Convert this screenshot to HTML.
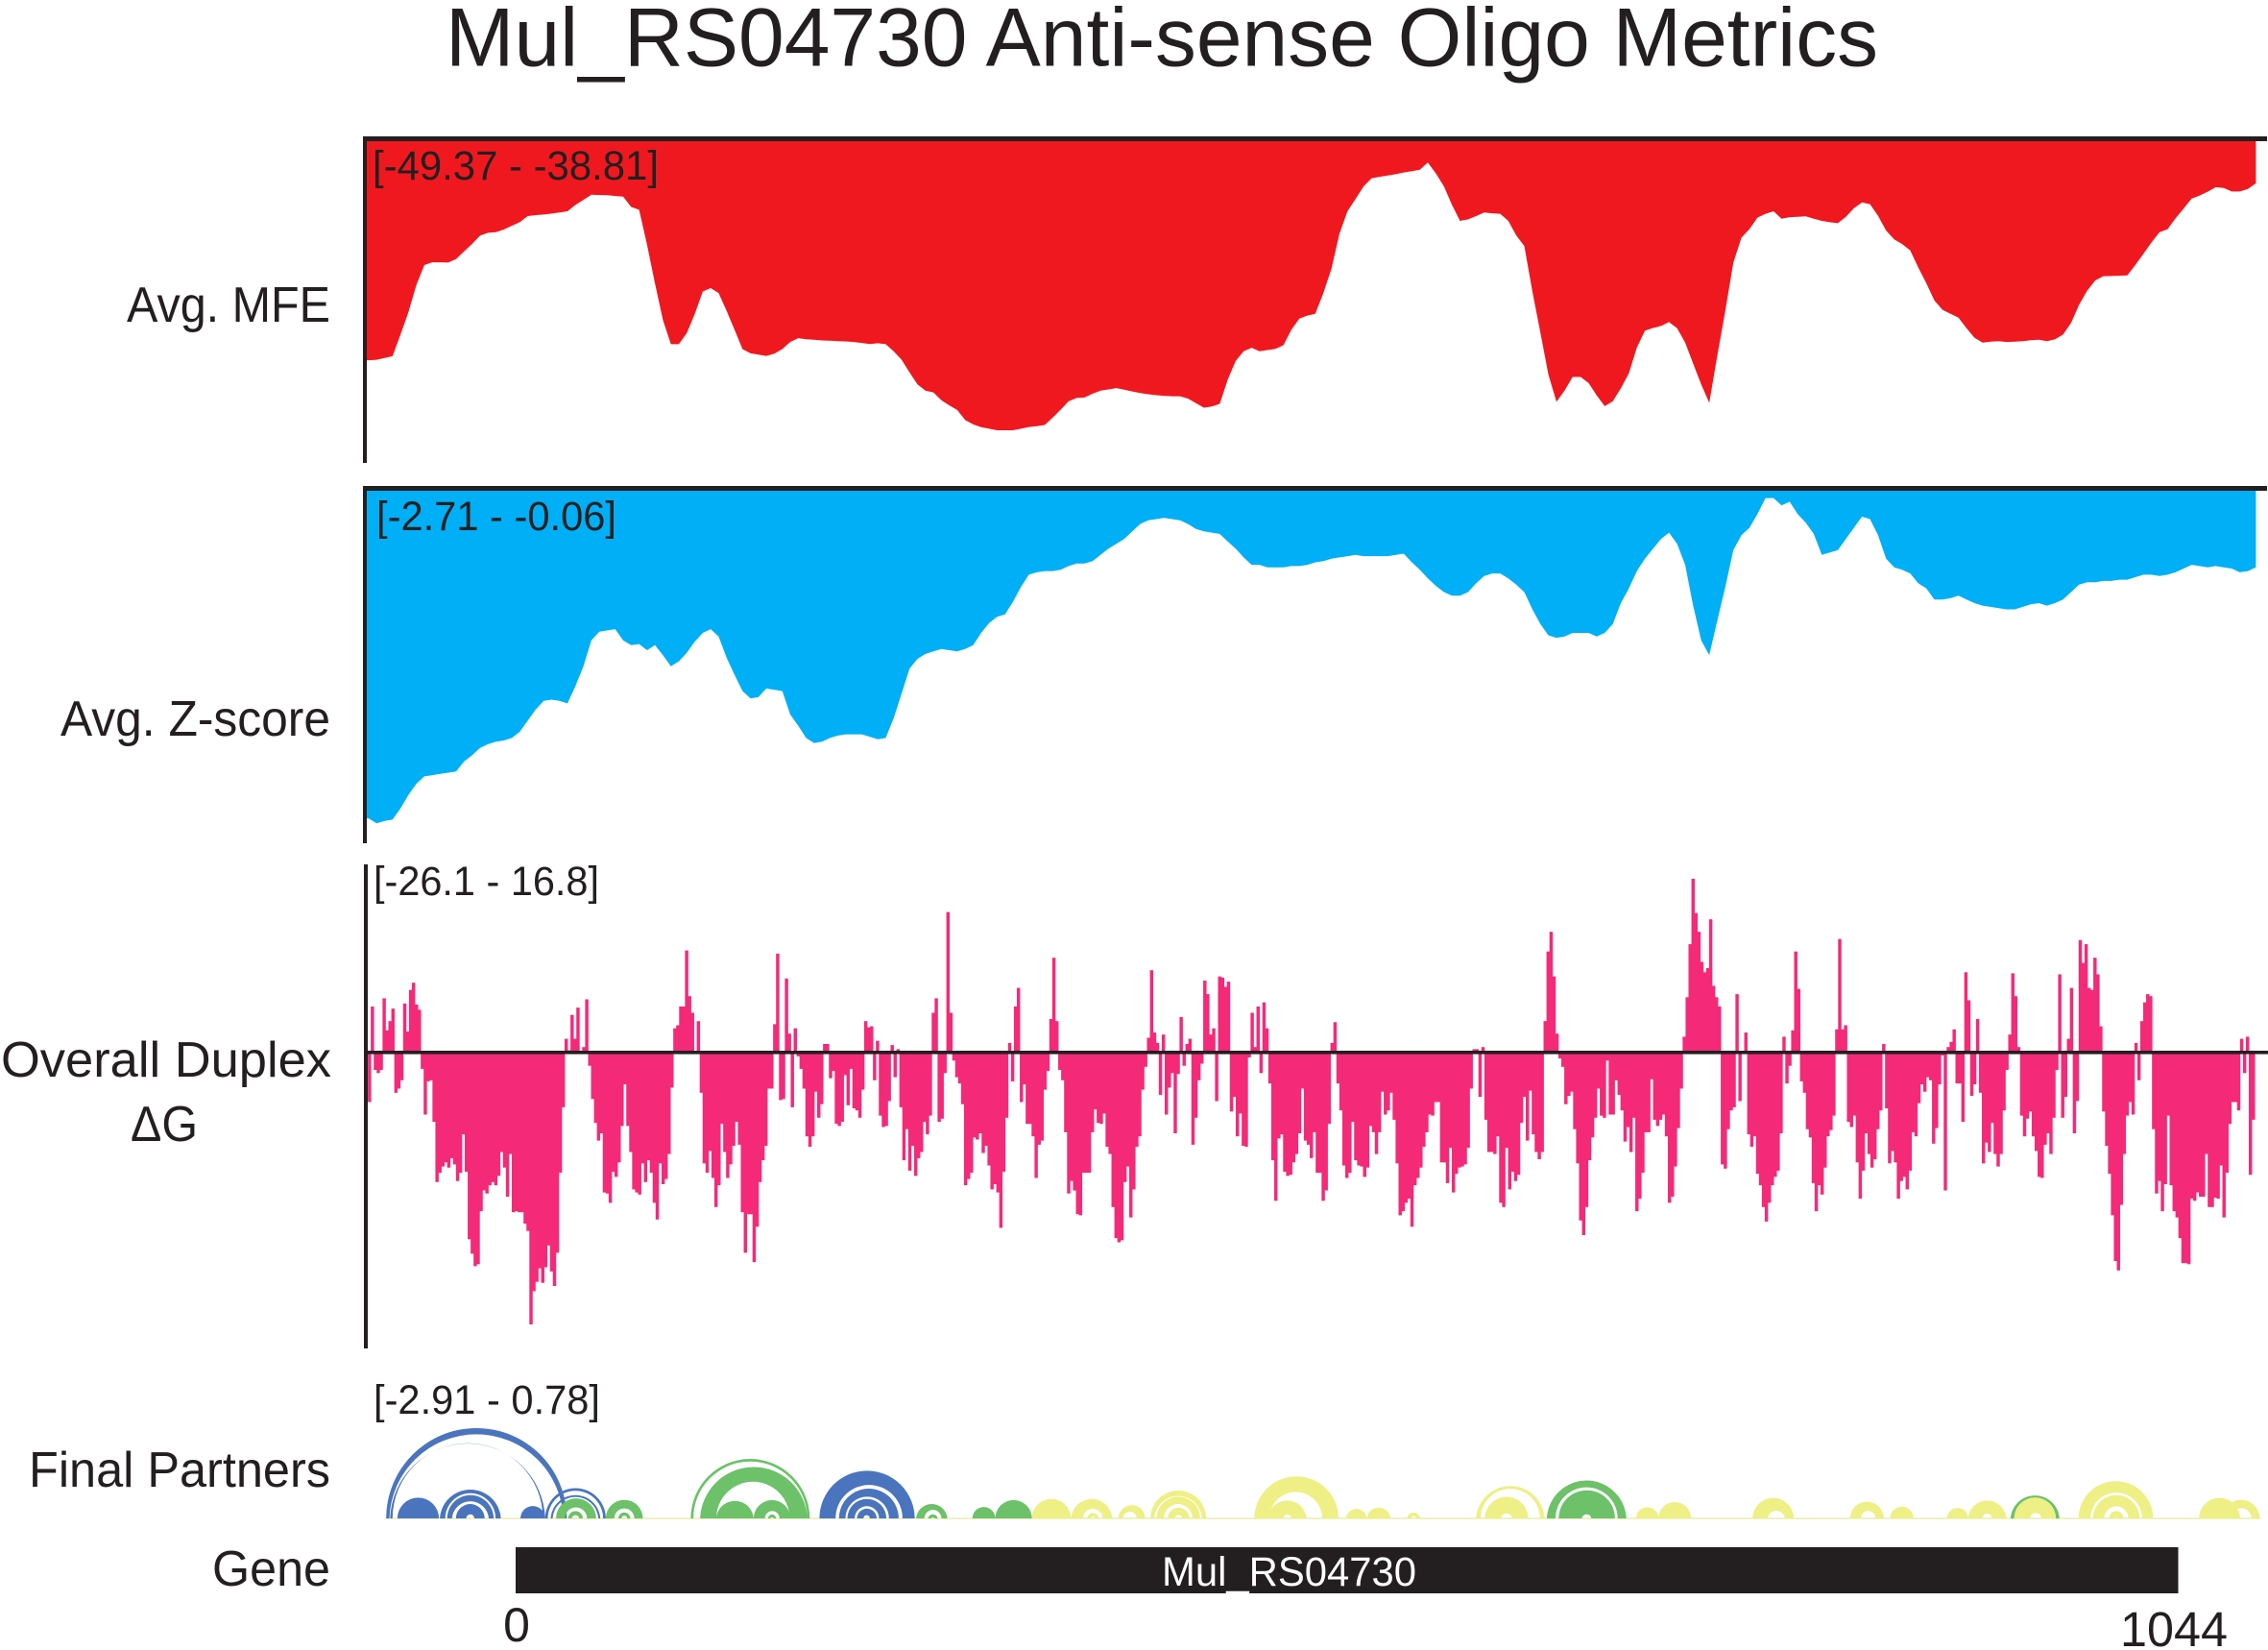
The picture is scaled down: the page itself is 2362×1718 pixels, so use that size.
<!DOCTYPE html>
<html lang="en">
<head>
<meta charset="utf-8">
<title>Mul_RS04730 Anti-sense Oligo Metrics</title>
<style>
html,body{margin:0;padding:0;background:#fff;}
svg{display:block;}
text{font-family:"Liberation Sans",sans-serif;fill:#231f20;}
</style>
</head>
<body>
<svg id="chart" xmlns="http://www.w3.org/2000/svg" width="2362" height="1718" viewBox="0 0 2362 1718">
  <rect x="0" y="0" width="2362" height="1718" fill="#fff"/>
  <text x="464" y="68.5" font-size="86" textLength="1492" lengthAdjust="spacingAndGlyphs">Mul_RS04730 Anti-sense Oligo Metrics</text>

  <g id="mfe-panel"></g>
  <g id="zscore-panel"></g>
  <g id="duplex-panel"></g>
  <g id="partners-panel"></g>

  <rect x="378" y="142" width="4" height="340" fill="#231f20"/>
  <rect x="378" y="142" width="1983" height="5" fill="#231f20"/>
  <rect x="378" y="506" width="4" height="372" fill="#231f20"/>
  <rect x="378" y="506" width="1983" height="5" fill="#231f20"/>
  <rect x="379" y="900" width="4" height="504" fill="#231f20"/>
  <rect x="383" y="1094" width="1979" height="3.6" fill="#231f20"/>

  <text x="132" y="335" font-size="52" textLength="212" lengthAdjust="spacingAndGlyphs">Avg. MFE</text>
  <text x="63" y="766" font-size="52" textLength="281" lengthAdjust="spacingAndGlyphs">Avg. Z-score</text>
  <text x="1" y="1121" font-size="52" textLength="344" lengthAdjust="spacingAndGlyphs">Overall Duplex</text>
  <text x="136" y="1188" font-size="52" textLength="70" lengthAdjust="spacingAndGlyphs">ΔG</text>
  <text x="30" y="1548" font-size="52" textLength="314" lengthAdjust="spacingAndGlyphs">Final Partners</text>
  <text x="221" y="1651" font-size="52" textLength="123" lengthAdjust="spacingAndGlyphs">Gene</text>

  <text x="388" y="187" font-size="43" textLength="298" lengthAdjust="spacingAndGlyphs">[-49.37 - -38.81]</text>
  <text x="392" y="552" font-size="43" textLength="250" lengthAdjust="spacingAndGlyphs">[-2.71 - -0.06]</text>
  <text x="389" y="932" font-size="43" textLength="235" lengthAdjust="spacingAndGlyphs">[-26.1 - 16.8]</text>
  <text x="389" y="1472" font-size="43" textLength="236" lengthAdjust="spacingAndGlyphs">[-2.91 - 0.78]</text>

  <rect x="537" y="1611" width="1731.5" height="48" fill="#231f20"/>
  <text x="1210" y="1651" font-size="43" textLength="265" lengthAdjust="spacingAndGlyphs" style="fill:#ffffff">Mul_RS04730</text>
  <text id="gene-start-tick" y="1709" font-size="50" text-anchor="middle"></text>
  <text id="gene-end-tick" y="1714" font-size="51" text-anchor="middle" textLength="112" lengthAdjust="spacingAndGlyphs"></text>
</svg>

<script>
const geneTicks = [0, 1044];

const areaSectionNt = [-92.3, 497.1, 1092.8];

const mfeRange = [-49.37, -38.81];
const mfeValuesLeft = [
-46.61,-46.59,-46.52,-46.45,-45.60,-44.72,-43.65,-42.86,-42.75,-42.75,-42.76,-42.62,-42.32,-42.03,-41.70,-41.59,-41.56,-41.46,-41.31,-41.17,
-40.93,-40.89,-40.87,-40.83,-40.79,-40.74,-40.49,-40.29,-40.09,-40.10,-40.11,-40.14,-40.16,-40.57,-40.68,-42.07,-43.58,-45.03,-45.98,-45.98,
-45.54,-44.78,-43.90,-43.77,-43.96,-44.66,-45.41,-46.17,-46.34,-46.39,-46.44,-46.35,-46.17,-45.89,-45.74,-45.78,-45.80,-45.83,-45.84,-45.86,
-45.87,-45.89,-45.93,-45.97,-45.94,-45.98,-46.26,-46.59,-47.09,-47.56,-47.81,-47.88,-48.19,-48.39,-48.57,-48.97,-49.14,-49.25,-49.31,-49.37,
-49.37,-49.37,-49.31,-49.24,-49.21,-49.16,-48.87,-48.56,-48.23,-48.10,-48.08,-47.93,-47.81,-47.76,-47.71,-47.77,-47.84,-47.90,-47.95,-47.99,
-48.01,-48.03,-48.03,-48.12,-48.30,-48.48,-48.43,-48.33,-47.37,-46.64,-46.26,-46.12,-46.26,-46.21,-46.16,-46.02,-45.41,-44.97
];
const mfeValuesRight = [
-44.85,-44.78,-43.96,-43.01,-41.63,-40.74,-40.26,-39.76,-39.44,-39.38,-39.33,-39.28,-39.21,-39.16,-39.10,-38.82,-39.25,-39.76,-40.49,-41.12,
-41.06,-40.93,-40.79,-40.82,-40.84,-41.12,-41.69,-42.11,-43.90,-45.54,-47.18,-48.25,-47.81,-47.27,-47.27,-47.51,-48.00,-48.42,-48.23,-47.72,
-47.12,-46.11,-45.45,-45.34,-45.26,-45.11,-45.35,-45.92,-46.74,-47.56,-48.29,-46.42,-44.66,-42.76,-41.78,-41.44,-40.99,-40.84,-40.74,-41.03,
-40.97,-40.96,-40.94,-41.03,-41.12,-41.17,-41.21,-40.96,-40.62,-40.39,-40.46,-40.92,-41.50,-41.85,-42.03,-42.28,-42.96,-43.58,-44.25,-44.62,
-44.78,-44.93,-45.35,-45.73,-45.92,-45.88,-45.86,-45.89,-45.88,-45.86,-45.82,-45.80,-45.86,-45.79,-45.60,-45.14,-44.43,-43.87,-43.47,-43.30,
-43.29,-43.28,-43.27,-42.86,-42.42,-41.97,-41.56,-41.45,-41.02,-40.64,-40.24,-40.12,-39.97,-39.79,-39.82,-39.96,-39.96,-39.86,-39.64
];

const zscoreRange = [-2.71, -0.06];
const zscoreValuesLeft = [
-2.67,-2.71,-2.69,-2.68,-2.59,-2.48,-2.39,-2.33,-2.32,-2.31,-2.30,-2.29,-2.21,-2.16,-2.10,-2.07,-2.05,-2.04,-2.02,-1.97,
-1.88,-1.79,-1.72,-1.71,-1.72,-1.74,-1.60,-1.44,-1.23,-1.16,-1.15,-1.14,-1.23,-1.27,-1.26,-1.31,-1.27,-1.35,-1.44,-1.40,
-1.33,-1.24,-1.17,-1.14,-1.20,-1.37,-1.51,-1.64,-1.70,-1.69,-1.62,-1.63,-1.64,-1.83,-1.92,-2.02,-2.06,-2.05,-2.02,-2.00,
-1.99,-1.99,-1.99,-2.01,-2.03,-2.02,-1.86,-1.66,-1.46,-1.38,-1.34,-1.32,-1.30,-1.31,-1.32,-1.30,-1.27,-1.17,-1.09,-1.04,
-1.02,-0.92,-0.80,-0.70,-0.68,-0.67,-0.67,-0.66,-0.63,-0.61,-0.61,-0.59,-0.54,-0.49,-0.45,-0.41,-0.35,-0.29,-0.26,-0.25,
-0.24,-0.25,-0.26,-0.29,-0.33,-0.35,-0.36,-0.37,-0.43,-0.49,-0.56,-0.62,-0.62,-0.64,-0.64,-0.64,-0.63,-0.63
];
const zscoreValuesRight = [
-0.62,-0.60,-0.59,-0.57,-0.56,-0.55,-0.54,-0.55,-0.55,-0.55,-0.55,-0.54,-0.53,-0.60,-0.66,-0.73,-0.79,-0.84,-0.87,-0.87,
-0.84,-0.77,-0.71,-0.69,-0.69,-0.73,-0.78,-0.84,-0.98,-1.10,-1.19,-1.21,-1.20,-1.17,-1.17,-1.17,-1.20,-1.17,-1.10,-0.93,
-0.81,-0.67,-0.57,-0.49,-0.41,-0.36,-0.45,-0.62,-0.95,-1.23,-1.35,-1.07,-0.80,-0.50,-0.38,-0.32,-0.21,-0.08,-0.08,-0.14,
-0.11,-0.21,-0.28,-0.37,-0.54,-0.52,-0.50,-0.41,-0.32,-0.23,-0.25,-0.38,-0.57,-0.64,-0.66,-0.69,-0.77,-0.81,-0.90,-0.90,
-0.89,-0.87,-0.90,-0.93,-0.95,-0.96,-0.97,-0.98,-0.98,-0.96,-0.94,-0.93,-0.95,-0.93,-0.90,-0.84,-0.78,-0.76,-0.76,-0.75,
-0.75,-0.74,-0.74,-0.72,-0.70,-0.70,-0.71,-0.70,-0.68,-0.65,-0.62,-0.63,-0.64,-0.63,-0.64,-0.65,-0.68,-0.67,-0.64
];

const duplexRange = [-26.1, 16.8];
const duplexSectionNt = [-92.8, 322.1, 732.8, 1092];
const duplexValuesStart = [
-4.7,4.5,-1.6,-1.9,-1.6,5.3,2.2,3.1,4.3,-3.8,-3.4,-2.6,4.8,2.1,6.1,6.8,4.7,4.2,-1.5,-5.9,-2.7,-2.6,-6.6,-12.4,-11.5,-10.9,-10.5,-11,-10.1,-10.7,-12.3,-11.5,-7.8,-11.4,-17.9,-19.3,-20.5,-20.3,-15.2,-13.2,-13.5,-12.7,-12.4,-12.7,-11.8,-9.5,-11,-13.8,-9.7,-15.3,-15.2,-15.3,-15.3,-16.4,-17.1,-26.1,-22.9,-22,-20.7,-22.1,-20.6,-18.5,-21,-22.4,-19.2,-11.5,-5.2,
1.4,0.3,3.7,1.4,4.4,0.2,0.6,5.2,
-1.2,-4.4,-6.7,-8.4,-7.7,-13.4,-13.5,-14.4,-11.4,-11.9,-10.5,-7,-3,-7,-9.5,-13.1,-13.4,-13.6,-10.6,-12.4,-10.3,-11.5,-14.4,-16,-10.6,-12.6,-12.1,-9.7,-3.3,
2.4,2.7,4.5,4.5,9.9,5.5,3.9,0.2,3.1,
-3.8,-10.6,-11.5,-9.4,-12,-14.8,-12.7,-6.8,-9.5,-12,-10.7,-8.9,-6.6,-8.8,-15.3,-19.2,-15.5,-15.5,-20.1,-16.7,-12.4,-10.3,-8.9,-3.4,-3.4,
2.8,9.6,-4.5,-4.4,7.2,1.9,-5.2,2.4,-0.3,-1.5,-3.4,-8,-9,-8,-3.7,-6.2,-4.9,0.9,0.9,-2.4,-1.7,-6.8,-7,-6.6,-2.1,-5,-1.5,-5.3,-5.5,-6.2,-3.5,3.1,2.5,2.6,-2.6,1.2,-6,-7.1,-7,-4.6,0.8,-2.3,0.4,-5.2,-10.3,-7.3,-11.3,-8.9,-11.8,-10.1,-9.5,-6.6,-7.8,-6,3.9,5.3,-6.6,-6.3,-1.9,13.6,3.9,-0.7,-2.3,-2.9,-4.9,-12.7,-12.1,-11.5,-8.1,-8.3,-7.7,-9.6,-8.9,-10.8,-13.1,-12.6,-13.4,-16.8,-11.4,-6.2,1,-2.7,4.5,6.3,-4.7,-3,-6.8
];
const duplexValuesMiddle = [
-6.8,-8,-12,-8.8,-8.4,-3.5,-1.7,3.3,9.2,3.1,-1.6,-2.6,-7.6,-13.5,-12.3,-13.2,-15.5,-15.6,-11.5,-11.5,-11.5,-7.6,-5.4,-6.7,-6.8,-5.8,-9,-9.7,-14.8,-17.8,-18.2,-18,-12.4,-10.9,-15.8,-13.1,-9,-8,-3.5,-1.3,1.5,8,2,1,-4,1.8,-5.9,-3.3,-1.9,-7.7,-2,3.5,-1.2,0.9,1.4,-8.8,-6.2,-2.6,-1,7,5.7,1.8,2.4,-4.6,7.4,7.3,6.4,6.9,-5.6,-4.2,-8,-5.8,-8.9,-9,-0.4,3.9,0.6,4.5,-1.9,4.9,2.4,-2.9,-10.3,-14.2,-8.2,-7.8,-11.4,-11.8,-11.7,-10.5,-9.7,-7.7,-3.4,-8.4,-8.8,-10.1,-7.6,-11.5,-11.5,-14.2,-13.2,-6.8,1,3,-2.9,-5.5,-10.8,-12,-11.5,-6.6,-10.3,-10.8,-10.9,-11.9,-11,-7,-7.6,-9.7,-7.6,-3.7,-5.9,-5.5,-3.8,-6.4,-10.6,-15.6,-15.2,-14.4,-14,-16.7,-12.7,-12,-11,-9,-7.6,-5.9,-6,-4.7,-4.7,-10.5,-10.5,-12.5,-9.1,-13.4,-11.6,-11,-10.9,-10.7,-9.1,-3.4,0.4,0.4,-4.2,0.6,-6.4,-9.5,-9.5,-9.7,-8,-14.4,-14.8,-9.1,-13.1,-11.4,-12.3,-11.7,-6.7,-4.2,-8.4,-3.6,-7.8,-9.5,-10.2,-9.5,3.1,9.8,11.7,7.4,1.9,-0.5,-1.3,-4.9,-4.1,-3.7,-7.3,-10.6,-16.1,-17.5,-14.8,-10.3,-8.1,-6.2,-3.4,-6,-6.2,-0.7,-5.9,-5.9,-2.6,-4,-5.5,-8.5,-7.1,-9.5,-6.2,-15.2,-14,-11.5,-7.6,-7.6,-2.5,-6.4,-7,-6.4,-5.9,-8,-14.4,-13.8,-10.9,-7.2,-3.4
];
const duplexValuesEnd = [
1.6,5.4,10.5,16.8,13.5,11.7,8.8,7.8,8.2,12.9,6.5,5.4,4.5,-10.7,-11.1,-7.3,-5.5,-5.2,5.7,-4.6,0.2,2,-7.8,-9,-8,-11.6,-12.7,-14.8,-16.2,-14.4,-12.7,-11.9,-11.3,-7.7,1.6,-2.9,-1.2,2.2,9.8,6.2,-2.7,-3.8,-7.3,-8.1,-12.5,-15.2,-12.7,-13.6,-11,-8,-7.4,-6,2.3,11,2.3,2.7,-6.6,-7.1,-6,-10.5,-14,-11.3,-7.7,-9.7,-11,-10.2,-7.3,-5.5,0.9,-5.3,-10.6,-9.4,-10.5,-14,-12.3,-11.9,-13.1,-11.3,-7.6,-8,-4.8,-3,-3.7,-2.3,-2.6,-8.7,-7.2,-3,-0.2,-13.2,0.6,1.1,2.3,-2.9,-2.9,-6.6,7.8,5.1,-4.1,-3,3.3,-3.8,-10.6,-8.6,-9.5,-6.7,-9.7,-10.9,-9.7,-5.5,-1.6,1.8,7.7,5.5,0.6,-6,-8,-6.3,-5.6,-8,-9.4,-11.9,-12,-8.8,-7.7,-9.7,-6.2,-1.6,7.6,-6.2,-4.2,1.4,6.3,-7.7,-4.6,10.9,8.7,10.5,6.3,6.1,9.2,7.6,2.6,-5.6,-8.9,-11.6,-15.6,-20,-20.9,-14.6,-9.7,-6,-4.7,-5.9,1,-2.6,3.1,4.9,5.7,5.5,-7.3,-13.5,-12.3,-15.2,-12.6,-6,-12.7,-15.2,-15.8,-17.8,-20.2,-20.2,-20.3,-14,-14.2,-13.4,-13.8,-13.8,-9.7,-14.8,-14.8,-13.9,-14,-10.8,-15.8,-11.5,-6.8,-4.7,-4.7,-5.5,1.4,-1.9,1.6,-11.7,-6.4
];

/* Partner arcs, in nucleotides: each band joins [startOuter,startInner] to [endInner,endOuter]. */
const arcStartOuter = [-81.3,-78.8,-74.2,-47.6,-43,-37.5,3,18.6,22,25.4,33,56.6,64.5,110,115.8,125.9,149.5,158.5,190.8,203.1,208.3,214.4,251.5,259,286.8,301.2,324.2,348.7,359,378.5,398.6,402.5,409.5,463.9,472.4,521.4,534.5,559.7,603.1,608.7,647.5,655,703.6,717.6,776.8,838,863.1,898.9,912,938.7,941,981.4,990.5,1000.5,1057.1,1071.8];
const arcStartInner = [-79.3,-77.3,-61.2,-44.2,-40,-31,10.8,20.2,23.2,31,35.2,62,66.5,111.6,126,137.7,156.5,160,200.9,207.1,212.9,218.4,256.7,261,294,312.7,336.4,356.3,361.5,381.5,401,407,414,473.3,482,528,542,562.5,606,618.6,653,669.5,710.6,727.8,786.2,844.6,870.4,905.5,921,941,951,988.9,997.5,1004,1070,1077];
const arcEndInner = [29.9,17.1,-61.2,-12.6,-16.9,-25.9,10.8,54.9,52,44.8,40,74.5,70,183.1,172.1,137.7,165.7,162,242.9,234.4,228.2,222.4,267.4,263,294,312.7,336.4,368.6,363.8,390,431,425,418.5,506.5,487,528,542,565.5,643.2,625.8,692,675.5,710.6,727.8,797,854,870.4,905.5,927,967.2,958,1021.3,1012.7,1006,1070,1090];
const arcEndOuter = [32.1,18.6,-48.2,-9.3,-13.8,-19.5,18.6,56.6,53.2,50.5,42.2,79.9,72,184.7,183.2,149.5,172.5,163.5,250.6,240.5,232.8,226.7,271.1,265,301.2,324.2,348.7,374.7,366,395.3,433.6,429.8,423,516.7,496.6,534.5,549.4,568,646.1,635.8,697.5,690.3,717.6,738.1,802.6,859.1,877.8,912,936.1,969.4,967.2,1028.2,1019.7,1009.7,1082.8,1095.1];
const arcScoreClass = ['low','low','low','low','low','low','low','low','low','mid','mid','mid','mid','mid','mid','mid','mid','mid','low','low','low','low','mid','mid','mid','mid','high','high','high','high','high','high','high','high','high','high','high','high','high','high','mid','mid','high','high','high','high','high','high','high','mid','high','high','high','high','high','high'];
const arcColors = {low:'#4a74bd', mid:'#6cc169', high:'#eeef85'};
const partnerSpanNt = [-82, 1096];

const SVGNS = 'http://www.w3.org/2000/svg';
function scaleLinear(domain, range) {
  return function (v) {
    return range[0] + (v - domain[0]) * (range[1] - range[0]) / (domain[1] - domain[0]);
  };
}
const xNt = scaleLinear(geneTicks, [537, 2268.5]);
const yMfe = scaleLinear(mfeRange, [448, 169]);
const yZscore = scaleLinear(zscoreRange, [857.3, 516]);
const yDuplex = scaleLinear(duplexRange, [1379, 915]);
const partnerBase = 1581;
const plotLeft = 382;

function drawArea(panelId, left, right, yScale, topY, color, name) {
  const panel = document.getElementById(panelId);
  const pts = [];
  pts.push(plotLeft + ',' + topY);
  pts.push(plotLeft + ',' + yScale(left[0]).toFixed(1));
  const leftStep = (areaSectionNt[1] - areaSectionNt[0]) / left.length;
  for (let i = 0; i < left.length; i++) {
    pts.push(xNt(areaSectionNt[0] + i * leftStep).toFixed(1) + ',' + yScale(left[i]).toFixed(1));
  }
  const rightStep = (areaSectionNt[2] - areaSectionNt[1]) / (right.length - 1);
  for (let i = 0; i < right.length; i++) {
    pts.push(xNt(areaSectionNt[1] + i * rightStep).toFixed(1) + ',' + yScale(right[i]).toFixed(1));
  }
  pts.push(xNt(areaSectionNt[2]).toFixed(1) + ',' + topY);
  const poly = document.createElementNS(SVGNS, 'polygon');
  poly.setAttribute('points', pts.join(' '));
  poly.setAttribute('fill', color);
  
  
  panel.appendChild(poly);
}

drawArea('mfe-panel', mfeValuesLeft, mfeValuesRight, yMfe, 146, '#f0181f', 'mfe-area');
drawArea('zscore-panel', zscoreValuesLeft, zscoreValuesRight, yZscore, 510, '#00aff5', 'zscore-area');

function drawDuplexSection(values, ntStart, ntEnd) {
  const panel = document.getElementById('duplex-panel');
  const step = (ntEnd - ntStart) / values.length;
  const zero = yDuplex(0);
  for (let i = 0; i < values.length; i++) {
    const x0 = xNt(ntStart + i * step);
    const x1 = xNt(ntStart + (i + 1) * step);
    const y = yDuplex(values[i]);
    const bar = document.createElementNS(SVGNS, 'rect');
    bar.setAttribute('x', x0.toFixed(2));
    bar.setAttribute('width', (x1 - x0 + 0.4).toFixed(2));
    bar.setAttribute('y', Math.min(y, zero).toFixed(1));
    bar.setAttribute('height', Math.abs(y - zero).toFixed(1));
    bar.setAttribute('fill', '#f42a78');
    
    
    panel.appendChild(bar);
  }
}
drawDuplexSection(duplexValuesStart, duplexSectionNt[0], duplexSectionNt[1]);
drawDuplexSection(duplexValuesMiddle, duplexSectionNt[1], duplexSectionNt[2]);
drawDuplexSection(duplexValuesEnd, duplexSectionNt[2], duplexSectionNt[3]);

(function drawPartners() {
  const panel = document.getElementById('partners-panel');
  const base = document.createElementNS(SVGNS, 'rect');
  base.setAttribute('x', xNt(partnerSpanNt[0]).toFixed(1));
  base.setAttribute('y', partnerBase - 1);
  base.setAttribute('width', (xNt(partnerSpanNt[1]) - xNt(partnerSpanNt[0])).toFixed(1));
  base.setAttribute('height', 2);
  base.setAttribute('fill', '#eef2c4');
  
  
  panel.appendChild(base);
  for (let i = 0; i < arcStartOuter.length; i++) {
    const a1 = xNt(arcStartOuter[i]);
    const a2 = xNt(arcStartInner[i]);
    const b1 = xNt(arcEndInner[i]);
    const b2 = xNt(arcEndOuter[i]);
    const ro = (b2 - a1) / 2;
    const ri = Math.max((b1 - a2) / 2, 0);
    const d = 'M' + a1.toFixed(1) + ' ' + partnerBase +
      ' A' + ro.toFixed(1) + ' ' + ro.toFixed(1) + ' 0 0 1 ' + b2.toFixed(1) + ' ' + partnerBase +
      ' L' + b1.toFixed(1) + ' ' + partnerBase +
      (ri > 0 ? ' A' + ri.toFixed(1) + ' ' + ri.toFixed(1) + ' 0 0 0 ' + a2.toFixed(1) + ' ' + partnerBase : '') +
      ' Z';
    const arc = document.createElementNS(SVGNS, 'path');
    arc.setAttribute('d', d);
    arc.setAttribute('fill', arcColors[arcScoreClass[i]]);
    
    
    panel.appendChild(arc);
  }
})();

const startTick = document.getElementById('gene-start-tick');
startTick.setAttribute('x', (xNt(geneTicks[0]) + 1).toFixed(1));
startTick.textContent = String(geneTicks[0]);
const endTick = document.getElementById('gene-end-tick');
endTick.setAttribute('x', (xNt(geneTicks[1]) - 4.5).toFixed(1));
endTick.textContent = String(geneTicks[1]);
</script>
</body>
</html>
